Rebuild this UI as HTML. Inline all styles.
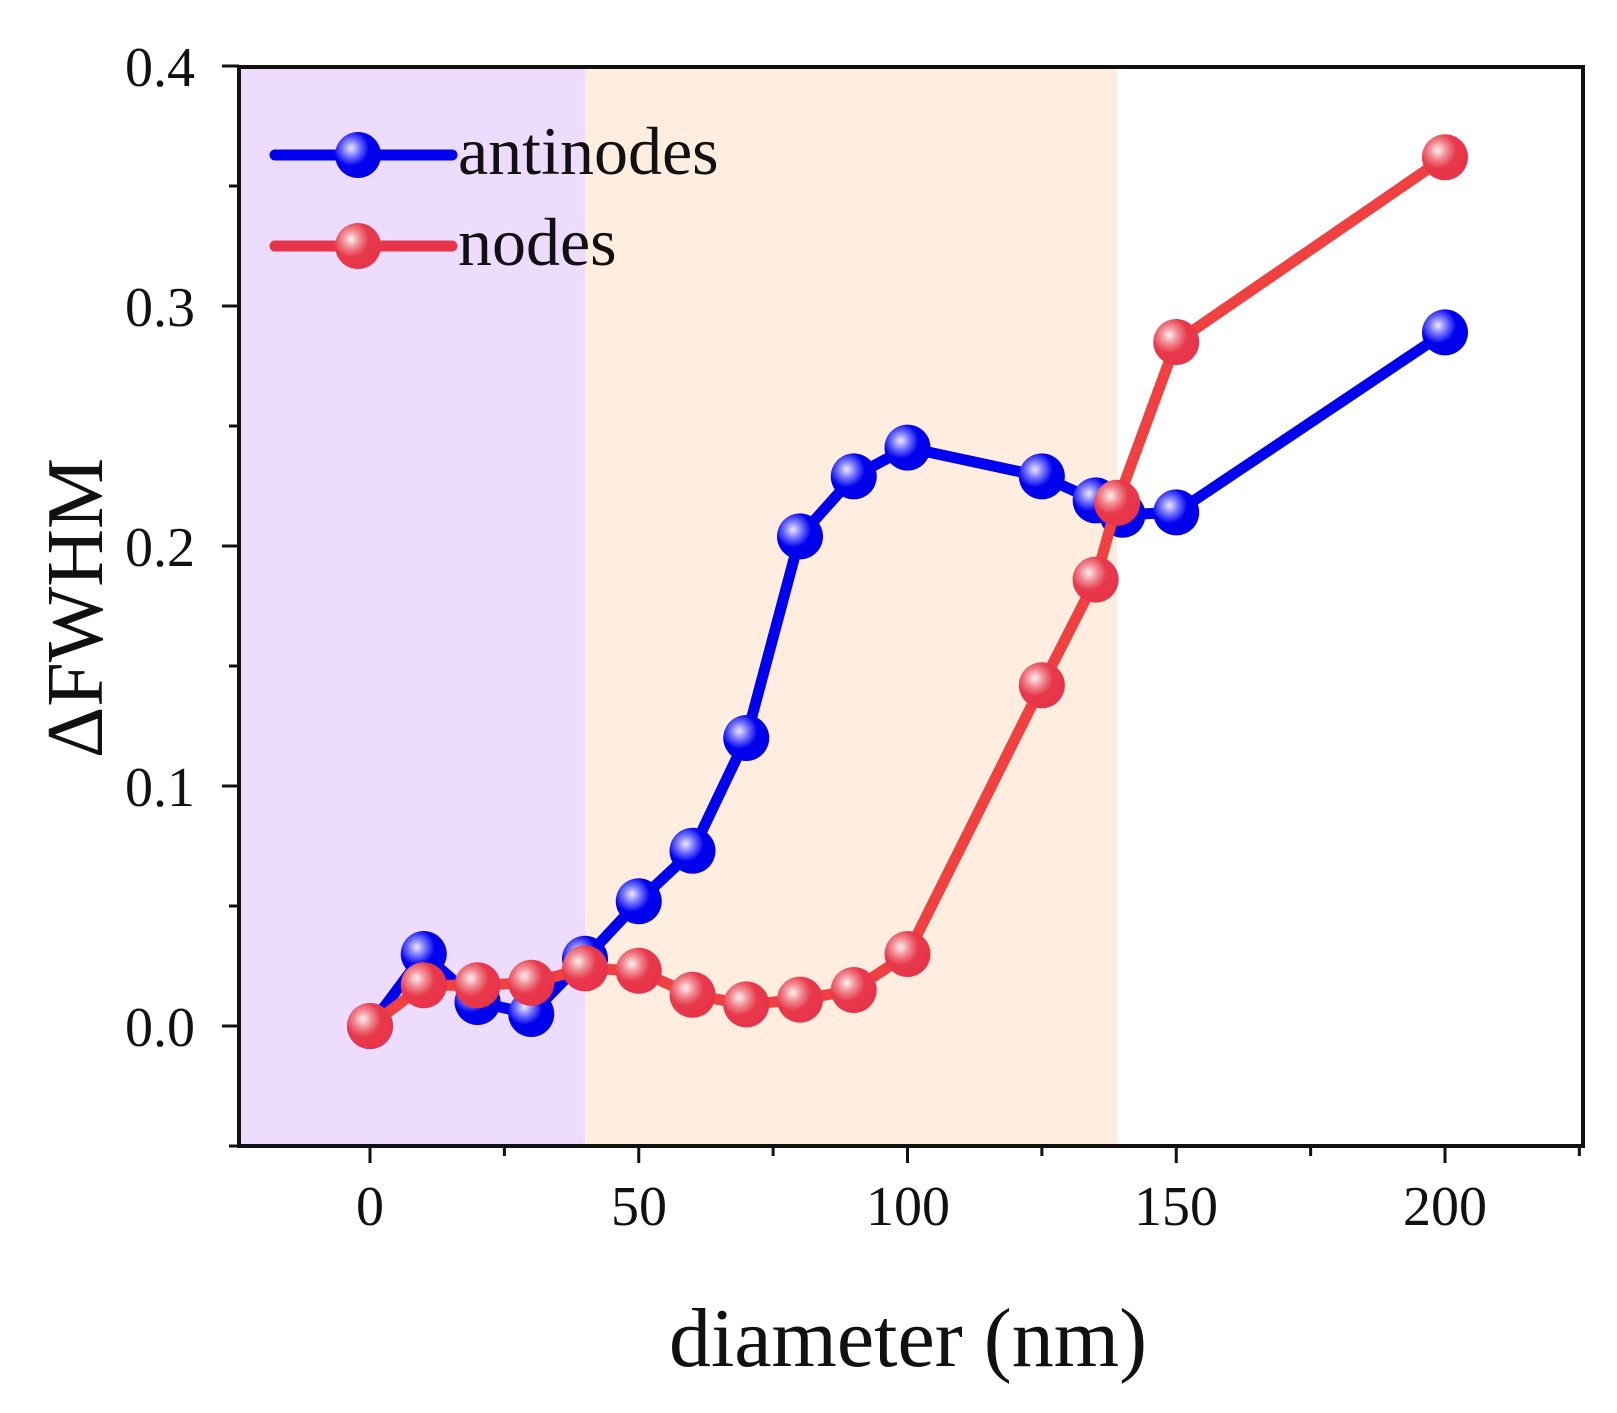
<!DOCTYPE html>
<html><head><meta charset="utf-8"><style>body{margin:0;background:#fff}svg{display:block}</style></head>
<body>
<svg width="1617" height="1413" viewBox="0 0 1617 1413" xmlns="http://www.w3.org/2000/svg" font-family="Liberation Serif, serif">
<defs>
<radialGradient id="gb" cx="0.35" cy="0.35" r="0.65"><stop offset="0" stop-color="#f0e8ff"/><stop offset="0.3" stop-color="#7070ff"/><stop offset="0.6" stop-color="#0000f0"/><stop offset="1" stop-color="#0000e8"/></radialGradient>
<radialGradient id="gr" cx="0.35" cy="0.35" r="0.65"><stop offset="0" stop-color="#fff0f0"/><stop offset="0.3" stop-color="#f08890"/><stop offset="0.6" stop-color="#e8384a"/><stop offset="1" stop-color="#e8344a"/></radialGradient>
</defs>
<rect x="239" y="67" width="346" height="1079" fill="#eedcff"/>
<rect x="585" y="67" width="532" height="1079" fill="#ffeedf"/>
<g id="plot"></g>
<g stroke="#111" stroke-width="4" fill="none">
<rect x="239" y="67" width="1344" height="1079"/>
</g>
<g id="ticks" stroke="#111" stroke-width="3"></g>
<g font-size="56" fill="#111" text-anchor="end">
<text x="195" y="86">0.4</text><text x="195" y="326">0.3</text><text x="195" y="566">0.2</text><text x="195" y="806">0.1</text><text x="195" y="1046">0.0</text>
</g>
<g font-size="56" fill="#111" text-anchor="middle">
<text x="370" y="1225">0</text><text x="639" y="1225">50</text><text x="908" y="1225">100</text><text x="1176" y="1225">150</text><text x="1445" y="1225">200</text>
</g>
<text x="908" y="1366" font-size="84" text-anchor="middle" fill="#111">diameter (nm)</text>
<text transform="translate(102,608) rotate(-90)" font-size="80" text-anchor="middle" fill="#111">ΔFWHM</text>
<line x1="275" y1="155" x2="452" y2="155" stroke="#0000f0" stroke-width="11" stroke-linecap="round"/>
<circle cx="358" cy="155" r="23" fill="url(#gb)"/>
<line x1="275" y1="246" x2="452" y2="246" stroke="#e8344a" stroke-width="11" stroke-linecap="round"/>
<circle cx="358" cy="246" r="23" fill="url(#gr)"/>
<text x="458" y="174" font-size="68" fill="#111">antinodes</text>
<text x="458" y="265" font-size="68" fill="#111">nodes</text>
<script>
const X=x=>370+x*5.375, Y=y=>1026-y*2400;
const A=[[0,0],[10,.03],[20,.01],[30,.005],[40,.028],[50,.052],[60,.073],[70,.12],[80,.204],[90,.229],[100,.241],[125,.229],[135,.219],[140,.213],[150,.214],[200,.289]];
const N=[[0,0],[10,.017],[20,.017],[30,.018],[40,.024],[50,.023],[60,.013],[70,.009],[80,.011],[90,.015],[100,.03],[125,.142],[135,.186],[139,.218],[150,.285],[200,.362]];
const ns="http://www.w3.org/2000/svg",p=document.getElementById('plot');
function ser(d,c,g){const pl=document.createElementNS(ns,'polyline');pl.setAttribute('points',d.map(q=>X(q[0])+','+Y(q[1])).join(' '));pl.setAttribute('fill','none');pl.setAttribute('stroke',c);pl.setAttribute('stroke-width','11');pl.setAttribute('stroke-linejoin','round');p.appendChild(pl);
d.forEach(q=>{const ci=document.createElementNS(ns,'circle');ci.setAttribute('cx',X(q[0]));ci.setAttribute('cy',Y(q[1]));ci.setAttribute('r','23');ci.setAttribute('fill',g);p.appendChild(ci);});}
ser(A,'#0000f0','url(#gb)');ser(N,'#f04040','url(#gr)');
const t=document.getElementById('ticks');
function ln(a,b,c,d){const l=document.createElementNS(ns,'line');l.setAttribute('x1',a);l.setAttribute('y1',b);l.setAttribute('x2',c);l.setAttribute('y2',d);t.appendChild(l);}
for(let x=-25;x<=225;x+=25){if(x<-24.5)continue;const L=(x%50===0)?17:10;ln(X(x),1146,X(x),1146+L);}
for(let i=-1;i<=8;i++){const y=i*0.05;const L=(i%2===0)?17:10;ln(239,Y(y),239-L,Y(y));}
</script>
</svg>
</body></html>
